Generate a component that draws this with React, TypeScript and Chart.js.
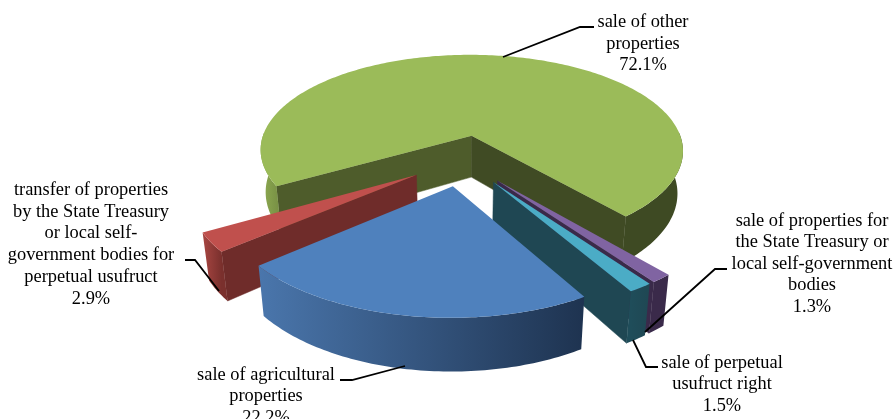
import React, { useEffect, useRef } from "react";
import { Chart, registerables } from "chart.js";

Chart.register(...registerables);

const categories = [
  "sale of other properties",
  "sale of properties for the State Treasury or local self-government bodies",
  "sale of perpetual usufruct right",
  "sale of agricultural properties",
  "transfer of properties by the State Treasury or local self-government bodies for perpetual usufruct",
];
const shares = [72.1, 1.3, 1.5, 22.2, 2.9];
const percentLabels = ["72.1%", "1.3%", "1.5%", "22.2%", "2.9%"];

const topColors = ["#9BBB59", "#8064A2", "#4BACC6", "#4F81BD", "#C0504D"];
const rimLeft = ["#8FAC52", "#3A2A4A", "#1F4D5A", "#4A76AC", "#A84642"];
const rimRight = ["#3E4A23", "#3A2A4A", "#1F4753", "#1E3350", "#7A302D"];
const rimStop = [0.15, 1, 1, 1, 1];
const startWall = ["#4E5C2B", "#3A2A4A", "#1F4753", "#1E3350", "#6F2C2A"];
const endWall = ["#404B24", "#3A2A4A", "#1F4753", "#1E3350", "#6F2C2A"];
const paintOrder = [0, 1, 4, 2, 3];

const labelLines = [
  ["sale of other", "properties"],
  ["sale of properties for", "the State Treasury or", "local self-government", "bodies"],
  ["sale of perpetual", "usufruct right"],
  ["sale of agricultural", "properties"],
  ["transfer of properties", "by the State Treasury", "or local self-", "government bodies for", "perpetual usufruct"],
];
const labelLayout = [
  { x: 643, y: 22.5, step: 21.5, leader: [[503, 57], [580, 27], [594, 27]] },
  { x: 812, y: 221, step: 21.5, leader: [[645, 332], [715, 269], [727, 269]] },
  { x: 722, y: 363, step: 21.5, leader: [[633, 340], [646, 367], [658, 367]] },
  { x: 266, y: 375, step: 21.5, leader: [[405, 366], [352, 380], [340, 380]] },
  { x: 91, y: 190, step: 21.8, leader: [[219, 291], [195, 260], [185, 260]] },
];

const view = { cx: 462.5, cy: 160, radius: 217, squash: 0.4655, perspective: 0.16, depth: 43, taper: 0.025 };

function project(u: number, v: number, z: number) {
  const s = 1 / (1 - (view.perspective * v) / view.radius);
  const t = 1 - (view.taper * z) / view.depth;
  return { x: view.cx + u * s * t, y: view.cy + v * view.squash * s + z * s };
}

const pie3d = {
  id: "pie3d",
  beforeDatasetsDraw(chart: any) {
    const ctx = chart.ctx;
    const arcs = chart.getDatasetMeta(0).data;
    for (const i of paintOrder) {
      const arc = arcs[i];
      const a0 = arc.startAngle;
      const a1 = arc.endAngle;
      const mid = (a0 + a1) / 2;
      const off = arc.options.offset;
      const ou = Math.cos(mid) * off;
      const ov = Math.sin(mid) * off;
      const R = view.radius;
      const rim = (a: number, z: number) =>
        project(ou + Math.cos(a) * R, ov + Math.sin(a) * R, z);
      const apex = (z: number) => project(ou, ov, z);

      // radial cut faces
      const cut = (a: number, normal: number, color: string) => {
        if (Math.sin(normal) <= 0) return;
        const p = [apex(0), rim(a, 0), rim(a, view.depth), apex(view.depth)];
        ctx.beginPath();
        p.forEach((q, k) => (k ? ctx.lineTo(q.x, q.y) : ctx.moveTo(q.x, q.y)));
        ctx.closePath();
        ctx.fillStyle = color;
        ctx.fill();
        ctx.strokeStyle = color;
        ctx.lineWidth = 0.5;
        ctx.stroke();
      };
      cut(a0, a0 - Math.PI / 2, startWall[i]);
      cut(a1, a1 + Math.PI / 2, endWall[i]);

      // outer curved wall, only the part that faces the viewer
      const n = Math.max(2, Math.ceil(((a1 - a0) * 180) / Math.PI));
      const angles: number[] = [];
      for (let k = 0; k <= n; k++) angles.push(a0 + ((a1 - a0) * k) / n);
      let minX = Infinity;
      let maxX = -Infinity;
      angles.forEach((a) => {
        const p = rim(a, 0);
        minX = Math.min(minX, p.x);
        maxX = Math.max(maxX, p.x);
      });
      const grad = ctx.createLinearGradient(minX, 0, maxX, 0);
      grad.addColorStop(0, rimLeft[i]);
      grad.addColorStop(rimStop[i], rimRight[i]);
      let run: number[] = [];
      const flush = () => {
        if (run.length > 1) {
          ctx.beginPath();
          run.forEach((a, k) => {
            const p = rim(a, 0);
            if (k) ctx.lineTo(p.x, p.y);
            else ctx.moveTo(p.x, p.y);
          });
          [...run].reverse().forEach((a) => {
            const p = rim(a, view.depth);
            ctx.lineTo(p.x, p.y);
          });
          ctx.closePath();
          ctx.fillStyle = grad;
          ctx.fill();
        }
        run = [];
      };
      angles.forEach((a) => {
        if (Math.sin(a) > -0.05) run.push(a);
        else flush();
      });
      flush();

      // top face
      ctx.beginPath();
      const c = apex(0);
      ctx.moveTo(c.x, c.y);
      angles.forEach((a) => {
        const p = rim(a, 0);
        ctx.lineTo(p.x, p.y);
      });
      ctx.closePath();
      ctx.fillStyle = arc.options.backgroundColor;
      ctx.fill();
    }

    // labels and leader lines
    ctx.fillStyle = "#000000";
    ctx.font = '18.4px "Liberation Serif"';
    ctx.textAlign = "center";
    ctx.textBaseline = "middle";
    labelLayout.forEach((l, i) => {
      [...labelLines[i], percentLabels[i]].forEach((t, k) => {
        ctx.fillText(t, l.x, l.y + k * l.step);
      });
      ctx.beginPath();
      l.leader.forEach((p, k) => (k ? ctx.lineTo(p[0], p[1]) : ctx.moveTo(p[0], p[1])));
      ctx.strokeStyle = "#000000";
      ctx.lineWidth = 1.8;
      ctx.stroke();
    });
    return false;
  },
};

export default function App() {
  const ref = useRef<HTMLCanvasElement | null>(null);
  useEffect(() => {
    const chart = new Chart(ref.current as HTMLCanvasElement, {
      type: "pie",
      data: {
        labels: categories,
        datasets: [
          {
            data: shares,
            backgroundColor: topColors,
            borderWidth: 0,
            offset: 55,
          },
        ],
      },
      options: {
        responsive: false,
        animation: false,
        rotation: 240.1,
        plugins: { legend: { display: false }, tooltip: { enabled: false } },
      },
      plugins: [pie3d],
    } as any);
    return () => chart.destroy();
  }, []);
  return (
    <div style={{ position: "absolute", left: 0, top: 0, width: 894, height: 419, overflow: "hidden", background: "#fff" }}>
      <canvas ref={ref} width={894} height={419} style={{ display: "block" }} />
    </div>
  );
}
